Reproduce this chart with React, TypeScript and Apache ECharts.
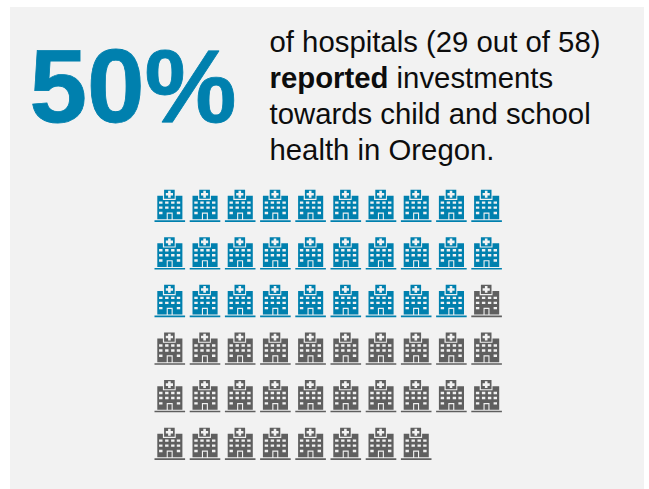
import React, { useEffect, useRef } from "react";
import * as echarts from "echarts";

// Hospital counts behind the headline figure
const reportedHospitals = 29;
const totalHospitals = 58;
const iconsPerRow = 10;
const headline = "50%";
const bodyLines = [
  "of hospitals (29 out of 58)",
  "{b|reported} investments",
  "towards child and school",
  "health in Oregon.",
];

const BLUE = "#0080ae";
const GRAY = "#5f5f5f";
const TEXT = "#0d0d0d";
const FONT = "'Liberation Sans', Arial, sans-serif";

// Outer shapes run clockwise and cut-outs counter-clockwise, so nonzero filling leaves holes.
const rectCW = (x: number, y: number, w: number, h: number) =>
  `M${x} ${y}L${x + w} ${y}L${x + w} ${y + h}L${x} ${y + h}Z`;
const rectCCW = (x: number, y: number, w: number, h: number) =>
  `M${x} ${y}L${x} ${y + h}L${x + w} ${y + h}L${x + w} ${y}Z`;

const buildingIcon = () => {
  const parts: string[] = [];
  // Main block with a notch under the sign, and a door outline cut out of it
  parts.push(
    "M2.8 6.8L8.4 6.8L8.4 11L21.2 11L21.2 6.8L27.9 6.8L27.9 30.4L18.2 30.4L18.2 23.6L12.2 23.6L12.2 30.4L2.8 30.4Z",
  );
  parts.push(rectCW(13.3, 24.8, 3.8, 5.6));
  // Windows
  [13.7, 18.7].forEach((y) =>
    [6.3, 12.3, 18.3, 24].forEach((x) => parts.push(rectCCW(x - 1.7, y - 1.2, 3.4, 2.4))),
  );
  [6.3, 24].forEach((x) => parts.push(rectCCW(x - 1.7, 22.8, 3.4, 2.4)));
  // Sign with a cross
  parts.push(rectCW(9.6, 0.7, 10.6, 9.2));
  parts.push(
    "M13.6 1.9L13.6 4L11.3 4L11.3 6.6L13.6 6.6L13.6 8.7L16.2 8.7L16.2 6.6L18.5 6.6L18.5 4L16.2 4L16.2 1.9Z",
  );
  // Ground line
  parts.push(rectCW(0, 31.4, 30.6, 1.6));
  return "path://" + parts.join("");
};

// Lays the hospitals out left to right, row by row
const positions = (from: number, to: number) => {
  const out: number[][] = [];
  for (let i = from; i < to; i++) {
    out.push([i % iconsPerRow, Math.floor(i / iconsPerRow)]);
  }
  return out;
};

export default function App() {
  const ref = useRef<HTMLDivElement>(null);

  useEffect(() => {
    const chart = echarts.init(ref.current!, undefined, { renderer: "svg" });
    const icon = buildingIcon();
    const iconSeries = (name: string, color: string, data: number[][]) => ({
      name,
      type: "scatter",
      symbol: icon,
      symbolSize: [30.6, 32.3],
      itemStyle: { color, opacity: 1 },
      data,
      silent: true,
      z: 3,
    });

    chart.setOption({
      animation: false,
      backgroundColor: "#ffffff",
      grid: { left: 169.8, top: 205.8, width: 316.8, height: 238 },
      xAxis: { type: "value", min: 0, max: 9, show: false },
      yAxis: { type: "value", min: 0, max: 5, inverse: true, show: false },
      graphic: [
        {
          type: "rect",
          z: 0,
          shape: { x: 10, y: 7, width: 634, height: 482 },
          style: { fill: "#f2f2f2" },
        },
        {
          type: "text",
          x: 29.5,
          y: 86,
          z: 2,
          style: {
            text: headline,
            font: `bold 103.5px ${FONT}`,
            fill: BLUE,
            stroke: BLUE,
            lineWidth: 0.8,
            verticalAlign: "middle",
          },
        },
        ...bodyLines.map((line, i) => ({
          type: "text",
          x: 269.5,
          y: 41 + i * 36,
          z: 2,
          style: {
            text: line,
            font: `29.33px ${FONT}`,
            fill: TEXT,
            verticalAlign: "middle",
            rich: { b: { font: `bold 29.33px ${FONT}`, fill: TEXT } },
          },
        })),
      ],
      series: [
        iconSeries("Reported", BLUE, positions(0, reportedHospitals)),
        iconSeries("Not reported", GRAY, positions(reportedHospitals, totalHospitals)),
      ],
    });
    return () => chart.dispose();
  }, []);

  return (
    <div
      ref={ref}
      style={{ position: "fixed", left: 0, top: 0, width: 649, height: 489 }}
    />
  );
}
